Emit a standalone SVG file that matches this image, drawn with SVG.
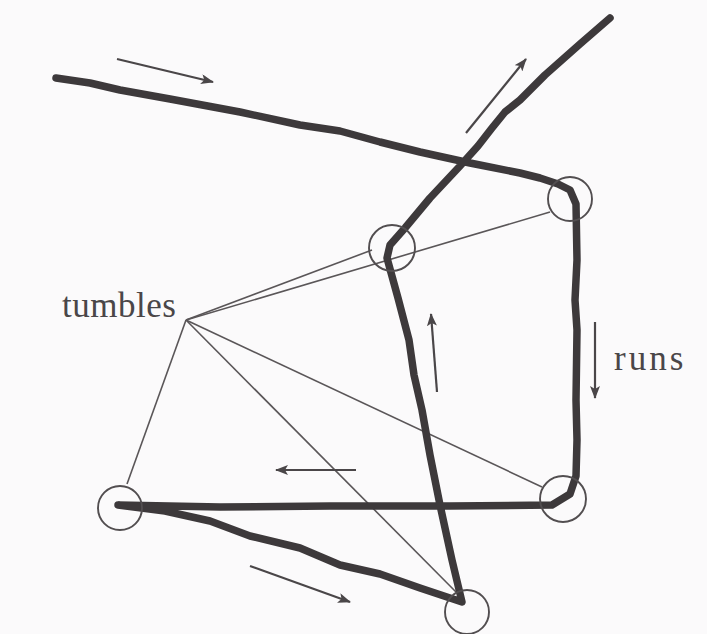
<svg xmlns="http://www.w3.org/2000/svg" width="707" height="634" viewBox="0 0 707 634">
<defs>
<style>
.path{fill:none;stroke:#3d393b;stroke-width:7.5;stroke-linejoin:round;stroke-linecap:round}
.thin{fill:none;stroke:#5a5658;stroke-width:1.6}
.arrow{fill:none;stroke:#4a4648;stroke-width:2.2;marker-end:url(#ah)}
.site{fill:none;stroke:#524e50;stroke-width:1.9}
.lbl{font-family:"Liberation Serif","Times New Roman",serif;font-size:35px;fill:#4a4648}
</style>
<marker id="ah" markerUnits="userSpaceOnUse" markerWidth="14" markerHeight="10" refX="12" refY="5" orient="auto">
<path d="M0,0 L13,5 L0,10 L3,5 z" fill="#4a4648"/>
</marker>
</defs>
<rect width="707" height="634" fill="#fbfafb"/>
<g id="connectors">
<path class="thin" d="M186,320 L372,250"/>
<path class="thin" d="M186,320 L550,212"/>
<path class="thin" d="M186,320 L542,487"/>
<path class="thin" d="M186,320 L457,593"/>
<path class="thin" d="M186,320 L127,484"/>
<path class="arrow" d="M117,59 L213,82"/>
<path class="arrow" d="M466,133 L526,59"/>
<path class="arrow" d="M437,392 L431,314"/>
<path class="arrow" d="M595,322 L595,398"/>
<path class="arrow" d="M356,470 L276,470"/>
<path class="arrow" d="M250,566 L350,602"/>
</g>
<g id="trajectory">
<path class="path" d="M56,78 L90,83 L120,90 L170,99 L240,112 L300,125 L340,131 L380,142 L420,152 L470,163 L520,173 L540,178 L558,184 L570,190 L576,204 L577,260 L575,300 L577,330 L576,400 L577,440 L576,476 L570,494 L552,505 L450,506 L330,506 L220,507 L118,505 L165,511 L210,521 L250,536 L300,548 L340,565 L380,574 L420,588 L462,602 L452,560 L440,505 L430,455 L422,410 L414,375 L409,340 L398,298 L387,258 L390,245 L405,228 L430,198 L460,166 L478,146 L492,128 L505,112 L520,100 L545,75 L580,44 L610,18"/>
</g>
<g id="site1"><circle class="site" cx="392" cy="248" r="23"/></g>
<g id="site2"><circle class="site" cx="570" cy="199" r="22"/></g>
<g id="site3"><circle class="site" cx="563" cy="499" r="23"/></g>
<g id="site4"><circle class="site" cx="120" cy="508" r="22"/></g>
<g id="site5"><circle class="site" cx="467" cy="612" r="22"/></g>
<g id="labels">
<text class="lbl" x="62" y="317" letter-spacing="0.5">tumbles</text>
<text class="lbl" x="614" y="370" letter-spacing="3">runs</text>
</g>
</svg>
